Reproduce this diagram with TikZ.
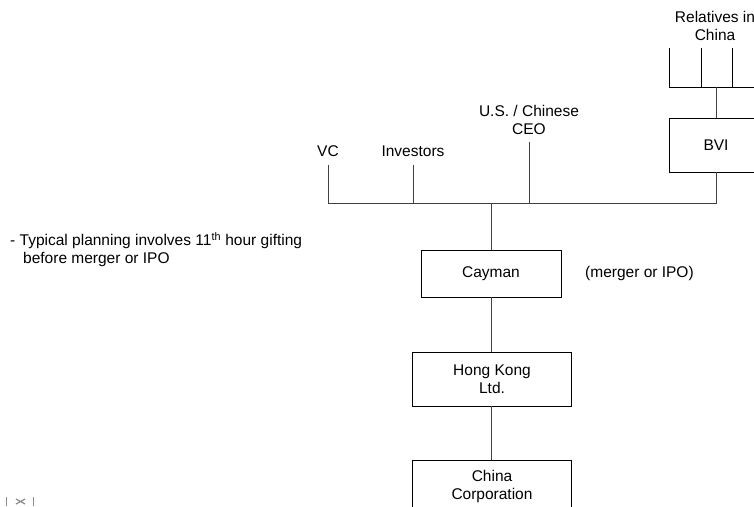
\documentclass[tikz,border=0pt]{standalone}
\usepackage{fontspec}
\setmainfont{Liberation Sans}
\begin{document}
\begin{tikzpicture}[x=1pt,y=-1pt,
  entity/.style={draw=black,line width=0.8pt,rectangle,inner sep=0pt,align=center,font=\fontsize{15.5}{18}\selectfont},
  lbl/.style={inner sep=0pt,align=center,font=\fontsize{15.5}{18}\selectfont},
  link/.style={draw=black!75,line width=0.9pt}]
\useasboundingbox (0,0) rectangle (754,506);

% entities
\node[entity,minimum width=140,minimum height=47] (cayman) at (491,273.5) {Cayman};
\node[entity,minimum width=159,minimum height=54] (hk) at (492,379) {Hong Kong\\Ltd.};
\node[entity,minimum width=159,minimum height=52] (china) at (492,486) {China\\Corporation};
\node[entity,minimum width=94,minimum height=54] (bvi) at (716,145) {BVI};

% labels
\node[lbl] (vc) at (328,151) {VC};
\node[lbl] (inv) at (413,151) {Investors};
\node[lbl] (ceo) at (529,120) {U.S. / Chinese\\CEO};
\node[lbl] (rel) at (715,26) {Relatives in\\China};
\node[lbl,anchor=west] (ipo) at (585,273.5) {(merger or IPO)};
\node[lbl,anchor=north west,align=left] (note) at (10,232)
  {- Typical planning involves 11\textsuperscript{th} hour gifting\\
   \hspace*{13pt}before merger or IPO};

% shareholder bar above Cayman
\coordinate (vcT) at (328,165);  \coordinate (vcB) at (328,203);
\coordinate (invT) at (413,165); \coordinate (invB) at (413,203);
\coordinate (ceoT) at (529,142); \coordinate (ceoB) at (529,203);
\coordinate (mid) at (491,203);
\coordinate (bviB) at (716,203);
\draw[link] (vcT) -- (vcB) -- (bviB) -- (bvi.south);
\draw[link] (invT) -- (invB);
\draw[link] (ceoT) -- (ceoB);
\draw[link] (mid) -- (cayman.north);

% relatives bar above BVI
\coordinate (r1T) at (669,48); \coordinate (r1B) at (669,87);
\coordinate (r2T) at (701,48); \coordinate (r2B) at (701,87);
\coordinate (r3T) at (732,48); \coordinate (r3B) at (732,87);
\coordinate (r4T) at (764,48); \coordinate (r4B) at (764,87);
\coordinate (rM) at (716,87);
\draw[link,draw=black] (r1T) -- (r1B) -- (r4B) -- (r4T);
\draw[link,draw=black] (r2T) -- (r2B);
\draw[link,draw=black] (r3T) -- (r3B);
\draw[link] (rM) -- (bvi.north);

% chain below Cayman
\draw[link] (cayman.south) -- (cayman.south |- hk.north);
\draw[link] (hk.south -| cayman.south) -- (cayman.south |- china.north);

% small broken picture mark, lower left
\draw[black!45,line width=0.9pt] (6,497) -- (6,506) (33,497) -- (33,506);
\draw[black!45,line width=1.2pt] (16,499) -- (25,504) (16,504) -- (25,499);
\end{tikzpicture}
\end{document}
